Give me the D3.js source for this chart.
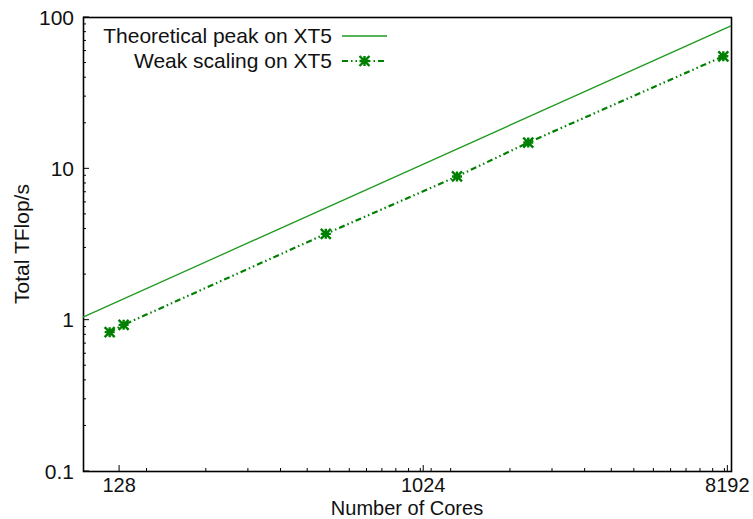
<!DOCTYPE html>
<html>
<head>
<meta charset="utf-8">
<script src="https://cdn.jsdelivr.net/npm/d3@7"></script>
<style>
  body { margin: 0; background: #fff; }
  svg text { font-family: "Liberation Sans", Arial, sans-serif; fill: #111; }
</style>
</head>
<body>
<div class="graphic"></div>
<script>
// weak scaling measurements
const cores = [120, 132, 526, 1290, 2100, 7970];
const tflops = [0.827, 0.924, 3.69, 8.84, 14.8, 55.0];

// theoretical peak (10.4 GFlop/s per core), drawn across the plot
const peakCores = [100, 8400];
const peakTflops = [1.04, 87.4];

const xTickValues = [128, 1024, 8192];
const yTickValues = [0.1, 1, 10, 100];
const legendLabels = ['Theoretical peak on XT5', 'Weak scaling on XT5'];

const width = 753, height = 519;
const margin = { top: 17, right: 22, bottom: 48, left: 83 };
const fontSize = 21;

const svg = d3.select('.graphic')
  .append('svg')
  .attr('width', width)
  .attr('height', height);

const x = d3.scaleLog().base(2)
  .domain([100, 8400])
  .range([margin.left, width - margin.right]);

const y = d3.scaleLog()
  .domain([0.1, 100])
  .range([height - margin.bottom, margin.top]);

const bottom = height - margin.bottom;

// minor x ticks as gnuplot drew them
const xMinor = [];
d3.range(2, 15).forEach(k => xMinor.push(k * 77.2));
d3.range(2, 14).forEach(k => xMinor.push(k * 617.6));

svg.selectAll('line.xminor')
  .data(xMinor.filter(v => v > 100 && v < 8400))
  .enter()
  .append('line')
  .attr('x1', d => x(d)).attr('x2', d => x(d))
  .attr('y1', bottom).attr('y2', bottom - 3)
  .attr('stroke', '#000').attr('stroke-width', 1);

svg.selectAll('line.xmajor')
  .data(xTickValues)
  .enter()
  .append('line')
  .attr('x1', d => x(d)).attr('x2', d => x(d))
  .attr('y1', bottom).attr('y2', bottom - 6)
  .attr('stroke', '#000').attr('stroke-width', 1);

svg.selectAll('text.xlabel')
  .data(xTickValues)
  .enter()
  .append('text')
  .attr('x', d => x(d))
  .attr('y', bottom + 21)
  .attr('text-anchor', 'middle')
  .attr('font-size', 20)
  .text(d => d);

// y ticks
const yMinor = [];
[0.1, 1, 10].forEach(p => d3.range(2, 10).forEach(k => yMinor.push(p * k)));

svg.selectAll('line.yminor')
  .data(yMinor)
  .enter()
  .append('line')
  .attr('x1', margin.left).attr('x2', margin.left + 3)
  .attr('y1', d => y(d)).attr('y2', d => y(d))
  .attr('stroke', '#000').attr('stroke-width', 1);

svg.selectAll('line.ymajor')
  .data(yTickValues)
  .enter()
  .append('line')
  .attr('x1', margin.left).attr('x2', margin.left + 6)
  .attr('y1', d => y(d)).attr('y2', d => y(d))
  .attr('stroke', '#000').attr('stroke-width', 1);

svg.selectAll('text.ylabel')
  .data(yTickValues)
  .enter()
  .append('text')
  .attr('x', margin.left - 9)
  .attr('y', d => y(d) + 7.5)
  .attr('text-anchor', 'end')
  .attr('font-size', fontSize)
  .text(d => d);

// frame
svg.append('rect')
  .attr('x', margin.left + 0.5)
  .attr('y', margin.top + 0.5)
  .attr('width', width - margin.left - margin.right)
  .attr('height', height - margin.top - margin.bottom)
  .attr('fill', 'none')
  .attr('stroke', '#000')
  .attr('stroke-width', 1.6);

// axis titles
svg.append('text')
  .attr('x', (margin.left + width - margin.right) / 2)
  .attr('y', height - 4.5)
  .attr('text-anchor', 'middle')
  .attr('font-size', 20)
  .text('Number of Cores');

svg.append('text')
  .attr('transform', `translate(29, ${(margin.top + bottom) / 2}) rotate(-90)`)
  .attr('text-anchor', 'middle')
  .attr('font-size', fontSize)
  .text('Total TFlop/s');

// peak line
const peakData = peakCores.map((c, i) => ({ c: c, v: peakTflops[i] }));
const line = d3.line().x(d => x(d.c)).y(d => y(d.v));

svg.append('path')
  .datum(peakData)
  .attr('d', line)
  .attr('fill', 'none')
  .attr('stroke', '#1f9a1f')
  .attr('stroke-width', 1.3);

// weak scaling line
const weakData = cores.map((c, i) => ({ c: c, v: tflops[i] }));
const weakDash = '6,3,1.5,3,1.5,3';

svg.append('path')
  .datum(weakData)
  .attr('d', line)
  .attr('fill', 'none')
  .attr('stroke', '#008000')
  .attr('stroke-width', 2.2)
  .attr('stroke-dasharray', weakDash);

const star = (g, cx, cy) => {
  const r = 5;
  g.append('path')
    .attr('d', `M${cx - r},${cy}H${cx + r}M${cx},${cy - r}V${cy + r}` +
      `M${cx - r},${cy - r}L${cx + r},${cy + r}M${cx - r},${cy + r}L${cx + r},${cy - r}`)
    .attr('stroke', '#008000')
    .attr('stroke-width', 2.4)
    .attr('fill', 'none');
};

const pts = svg.append('g');
weakData.forEach(d => star(pts, x(d.c), y(d.v)));

// legend
const legend = svg.append('g');
legendLabels.forEach((label, i) => {
  const ly = 36 + i * 25;
  legend.append('text')
    .attr('x', 332)
    .attr('y', ly + 7)
    .attr('text-anchor', 'end')
    .attr('font-size', fontSize)
    .text(label);
  const sample = legend.append('line')
    .attr('x1', 342).attr('x2', 387)
    .attr('y1', ly).attr('y2', ly)
    .attr('stroke', i === 0 ? '#1f9a1f' : '#008000')
    .attr('stroke-width', i === 0 ? 1.3 : 2.2);
  if (i === 1) {
    sample.attr('stroke-dasharray', weakDash);
    star(legend, 364.5, ly);
  }
});
</script>
</body>
</html>
